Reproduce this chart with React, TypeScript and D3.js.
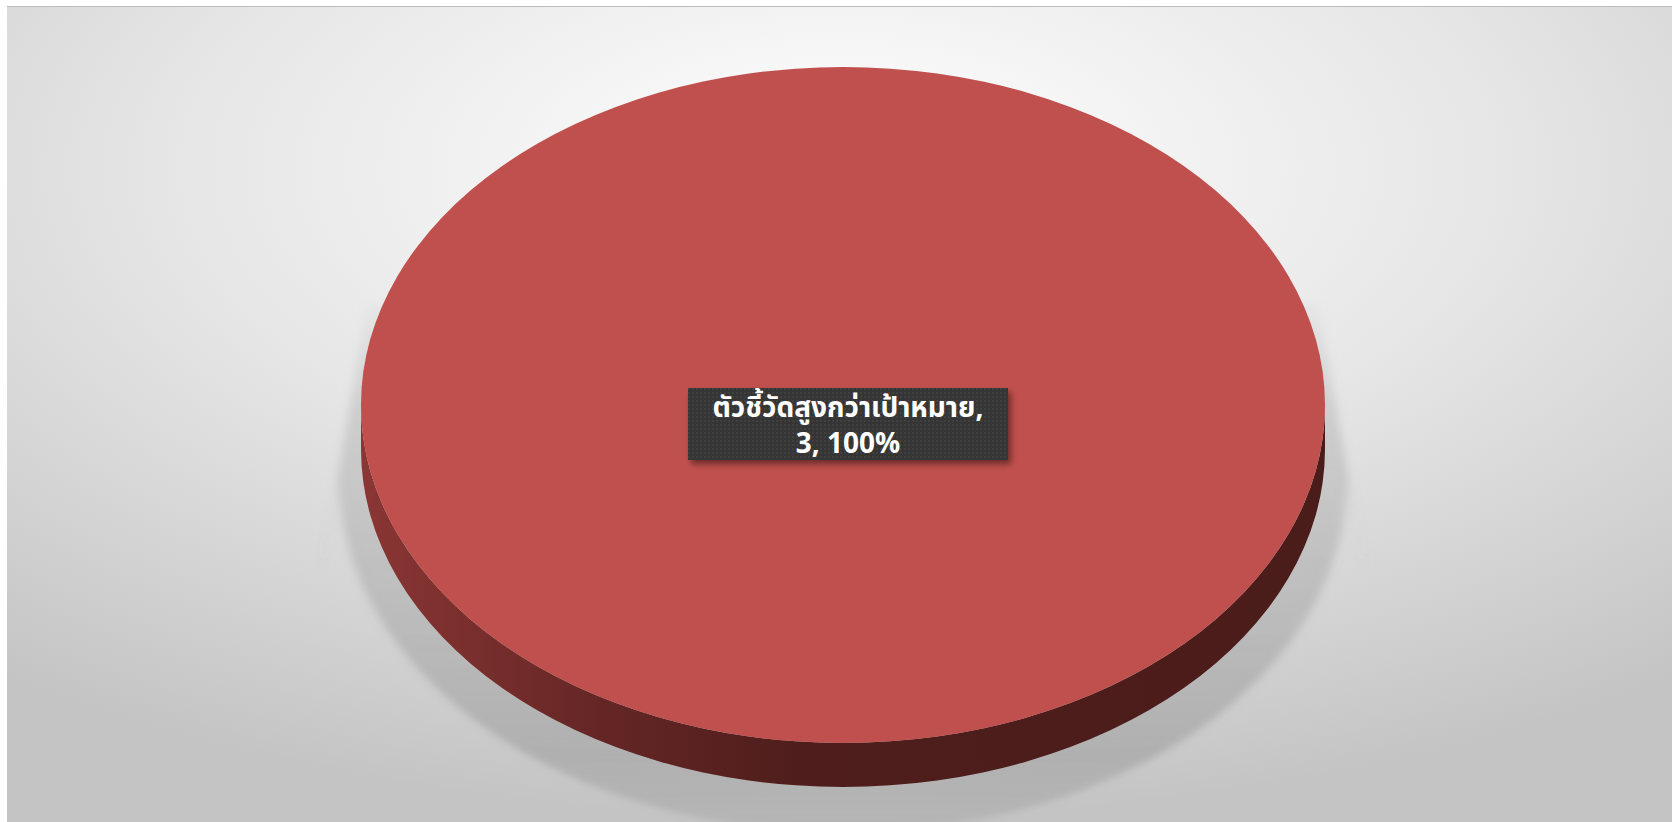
import React from 'react';
import * as d3 from 'd3';

// data
const categories = ['ตัวชี้วัดสูงกว่าเป้าหมาย'];
const values = [3];
const colors = ['#c0504d'];

const width = 1672;
const height = 822;
const plot = { left: 7, top: 6, right: 1672, bottom: 822 };

const cx = 843;
const cy = 405;
const rx = 482;
const ry = 338;
const depth = 44;
const k = ry / rx;

const App = () => {
  const pie = d3.pie<number>().sort(null).value(d => d);
  const slices = pie(values);
  const total = d3.sum(values);
  const pct = d3.format('.0%');

  const arc = d3.arc<d3.PieArcDatum<number>>().innerRadius(0).outerRadius(rx);

  // side of the cylinder, drawn in the y-scaled frame
  const dz = depth / k;
  const side = d3.path();
  side.moveTo(-rx, 0);
  side.arc(0, 0, rx, Math.PI, 0, true);
  side.lineTo(rx, dz);
  side.arc(0, dz, rx, 0, Math.PI, false);
  side.closePath();

  // soft shadow behind the disc
  const sh = d3.path();
  sh.moveTo(-rx + 6, -100 / k);
  sh.lineTo(-rx - 40, 170 / k);
  sh.lineTo(-rx - 22, (depth + 30) / k);
  sh.arc(0, (depth + 30) / k, rx + 22, Math.PI, 0, true);
  sh.lineTo(rx + 40, 170 / k);
  sh.lineTo(rx - 6, -100 / k);
  sh.closePath();

  const boxW = 320;
  const boxH = 72;

  return (
    <svg width={width} height={height} style={{ position: 'absolute', left: 0, top: 0 }}>
      <defs>
        <radialGradient id="bg" cx="0.5" cy="0.2" r="0.8">
          <stop offset="0" stopColor="#ffffff" />
          <stop offset="0.5" stopColor="#e6e6e6" />
          <stop offset="1" stopColor="#c4c4c4" />
        </radialGradient>
        <linearGradient id="sideGrad" x1="0" x2="1" y1="0" y2="0">
          <stop offset="0" stopColor="#8a3634" />
          <stop offset="0.25" stopColor="#642625" />
          <stop offset="0.45" stopColor="#4f1e1c" />
          <stop offset="1" stopColor="#4a1c1a" />
        </linearGradient>
        <linearGradient id="shadowFade" x1="0" x2="0" y1="0" y2="1">
          <stop offset="0" stopColor="#999" stopOpacity="0.05" />
          <stop offset="0.2" stopColor="#999" stopOpacity="0.3" />
          <stop offset="0.85" stopColor="#8c8c8c" stopOpacity="0.42" />
          <stop offset="1" stopColor="#8c8c8c" stopOpacity="0.25" />
        </linearGradient>
        <filter id="blur" x="-20%" y="-20%" width="140%" height="140%">
          <feGaussianBlur stdDeviation="5" />
        </filter>
        <filter id="boxShadow" x="-10%" y="-20%" width="130%" height="160%">
          <feDropShadow dx="3" dy="4" stdDeviation="3" floodColor="#000" floodOpacity="0.45" />
        </filter>
        <pattern id="dots" width="4" height="4" patternUnits="userSpaceOnUse">
          <rect width="4" height="4" fill="#363636" />
          <circle cx="1" cy="1" r="0.8" fill="#4d4d4d" />
        </pattern>
      </defs>

      <rect x={plot.left} y={plot.top} width={plot.right - plot.left} height={plot.bottom - plot.top} fill="url(#bg)" />
      <line x1={plot.left} x2={plot.right} y1={plot.top + 0.5} y2={plot.top + 0.5} stroke="#bcbcbc" />

      <g transform={`translate(${cx},${cy}) scale(1,${k})`}>
        <path d={sh.toString()} fill="url(#shadowFade)" filter="url(#blur)" />
        <path d={side.toString()} fill="url(#sideGrad)" />
        {slices.map((s, i) => (
          <path key={i} d={arc(s) || ''} fill={colors[i]} />
        ))}
      </g>

      {slices.map((s, i) => (
        <g key={i} transform={`translate(${cx + 5},${cy + 19})`}>
          <rect x={-boxW / 2} y={-boxH / 2} width={boxW} height={boxH} fill="url(#dots)" filter="url(#boxShadow)" />
          <text
            textAnchor="middle"
            fill="#ffffff"
            fontWeight="bold"
            fontSize={28}
            fontFamily="Tahoma, 'Noto Sans Thai', 'Noto Sans', 'DejaVu Sans', sans-serif"
          >
            <tspan x={0} y={-7}>{categories[i]},</tspan>
            <tspan x={0} y={29}>{`${s.data}, ${pct(s.data / total)}`}</tspan>
          </text>
        </g>
      ))}
    </svg>
  );
};

export default App;
